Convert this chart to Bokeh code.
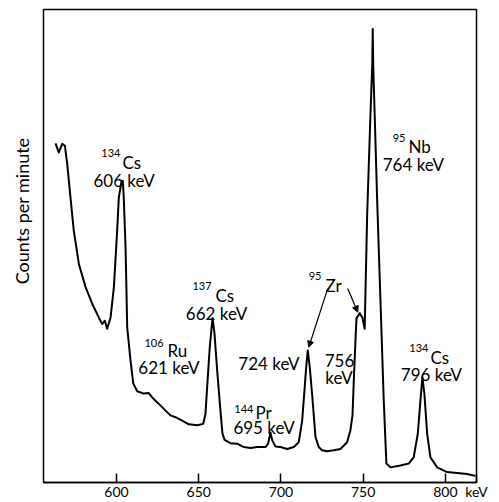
import math
from bokeh.plotting import figure
from bokeh.models import Range1d, Arrow, NormalHead, FixedTicker, Title
from bokeh.core.properties import value
from bokeh.embed import file_html
from bokeh.resources import INLINE

# ---- data (counts in arbitrary units) ----
energy = [562.9, 564.9, 567.0, 568.6, 570.0, 572.0, 574.0, 577.1, 581.2, 585.2,
          589.2, 591.3, 592.9, 594.3, 596.4, 598.4, 600.4, 601.4, 603.0, 603.8,
          604.4, 605.5, 606.5, 608.5, 610.2, 612.6, 616.6, 619.6, 621.7, 623.7,
          626.7, 629.8, 632.8, 635.9, 639.9, 644.0, 649.1, 652.7, 654.1, 655.1,
          656.7, 658.4, 659.6, 661.2, 663.2, 664.4, 665.7, 669.3, 673.4, 677.4,
          681.5, 685.5, 690.6, 692.2, 693.6, 694.7, 696.7, 699.7, 703.8, 707.8,
          710.8, 712.9, 714.3, 715.5, 716.3, 717.5, 719.0, 721.0, 723.0, 725.0,
          728.1, 732.1, 736.2, 740.2, 742.2, 743.5, 744.3, 745.3, 745.9, 747.9,
          749.5, 750.9, 752.4, 754.4, 755.5, 755.8, 756.1, 757.0, 758.5, 760.5,
          762.5, 764.1, 766.6, 772.6, 777.7, 780.7, 783.2, 784.8, 786.0, 787.2,
          788.9, 790.9, 795.0, 801.0, 807.1, 813.2, 818.2]
counts = [71.7, 69.8, 71.6, 71.2, 67.4, 60.3, 53.3, 46.2, 41.3, 37.8,
          34.9, 33.5, 34.2, 32.5, 34.9, 41.3, 53.3, 60.3, 63.5, 63.8,
          60.3, 49.7, 32.8, 25.8, 20.9, 19.3, 18.8, 18.9, 18.0, 17.3,
          16.3, 15.2, 14.2, 13.8, 13.1, 12.3, 12.1, 12.4, 14.5, 20.1,
          28.6, 34.8, 31.4, 23.7, 15.2, 10.4, 9.0, 8.3, 8.2, 7.5,
          7.3, 7.5, 7.5, 8.2, 10.6, 8.9, 7.6, 7.5, 7.1, 7.5,
          8.5, 13.1, 19.5, 25.1, 27.9, 24.4, 18.4, 9.6, 7.5, 6.8,
          6.6, 6.8, 7.1, 8.5, 11.0, 14.2, 21.6, 30.0, 34.7, 35.8,
          34.9, 32.5, 56.4, 77.6, 88.2, 95.9, 88.2, 77.6, 59.6, 38.5,
          17.3, 4.0, 3.2, 3.6, 4.0, 5.3, 10.3, 17.3, 22.3, 18.8,
          10.3, 5.3, 3.2, 2.2, 2.0, 1.8, 1.4]
x_ticks = [600, 650, 700, 750, 800]
x_start, x_end = 555.6, 818.9
unit_label = "keV"

# annotation texts
mass_numbers = ["134", "137", "106", "144", "95", "95", "134"]
elements = ["Cs", "Cs", "Ru", "Pr", "Zr", "Nb", "Cs"]
energy_labels = ["606 keV", "662 keV", "621 keV", "695 keV", "724 keV",
                 "756", "keV", "764 keV", "796 keV"]

# annotation placement (data coordinates)
mass_x = [602.4, 657.8, 628.6, 683.3, 724.6, 775.7, 789.7]
mass_y = [69.6, 41.6, 29.4, 15.6, 43.6, 72.9, 28.5]
elem_x = [603.6, 660.2, 631.0, 684.5, 727.1, 777.5, 790.9]
elem_y = [67.7, 39.5, 27.9, 14.8, 41.6, 71.0, 26.4]
en_x = [604.6, 660.8, 631.9, 689.7, 692.7, 735.6, 735.3, 780.5, 791.5]
en_y = [63.8, 35.7, 24.3, 11.6, 25.2, 25.8, 22.2, 67.2, 22.8]

FONT = "Lato"

p = figure(width=499, height=502, output_backend="svg", toolbar_location=None,
           x_range=Range1d(x_start, x_end), y_range=Range1d(0, 100),
           min_border_left=43, min_border_right=23, min_border_top=9,
           min_border_bottom=20)
p.background_fill_color = "white"
p.border_fill_color = "white"
p.grid.visible = False
p.yaxis.visible = False
p.outline_line_color = "black"
p.outline_line_width = 1.5

ax = p.xaxis[0]
ax.ticker = FixedTicker(ticks=x_ticks + [x_end])
ax.major_label_overrides = {x_end: unit_label}
ax.axis_line_color = "black"
ax.axis_line_width = 1.5
ax.major_tick_in = 9
ax.major_tick_out = 0
ax.major_tick_line_width = 1.5
ax.minor_tick_line_color = None
ax.major_label_standoff = 0
ax.major_label_text_line_height = 0.45
ax.major_label_text_font = FONT
ax.major_label_text_font_size = "14px"
ax.major_label_text_color = "black"

p.line(energy, counts, line_color="black", line_width=2, line_join="round")

p.text(x=mass_x, y=mass_y, text=mass_numbers, text_font=value(FONT),
       text_font_size="11px", text_align="right", text_baseline="alphabetic",
       text_color="black")
p.text(x=elem_x, y=elem_y, text=elements, text_font=value(FONT),
       text_font_size="17px", text_align="left", text_baseline="alphabetic",
       text_color="black")
p.text(x=en_x, y=en_y, text=energy_labels, text_font=value(FONT),
       text_font_size="17px", text_align="center", text_baseline="alphabetic",
       text_color="black")

for (xs, ys, xe, ye) in [(728.4, 41.0, 716.9, 28.6), (740.6, 41.0, 746.7, 36.0)]:
    p.add_layout(Arrow(end=NormalHead(size=6, fill_color="black", line_color="black"),
                       x_start=xs, y_start=ys, x_end=xe, y_end=ye,
                       line_color="black", line_width=1.2))

p.add_layout(Title(text="Counts per minute", align="right", offset=128,
                   vertical_align="top",
                   text_font=FONT, text_font_size="18px", text_font_style="normal",
                   text_color="black", standoff=17), "left")

open("out.html", "w").write(file_html(p, INLINE))
